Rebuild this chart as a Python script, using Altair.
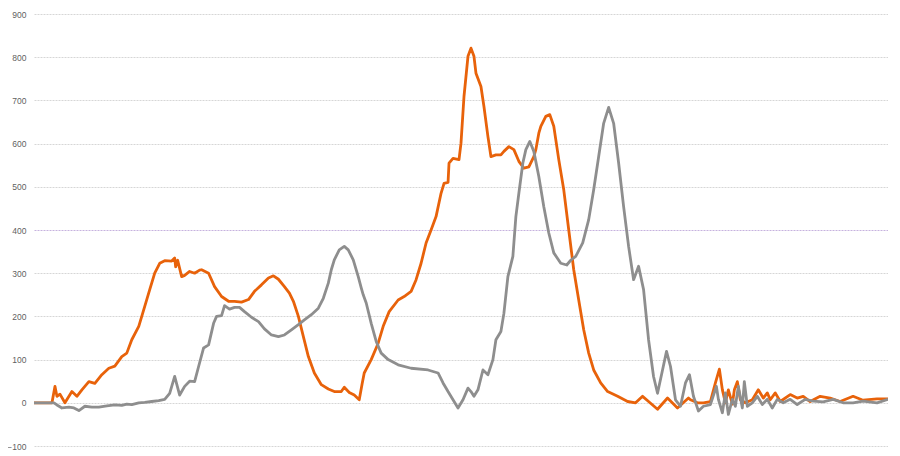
import altair as alt
import pandas as pd

# time index (read positions along the horizontal axis) and values
orange_t = [0, 8, 18, 21, 23, 26, 31, 38, 43, 48, 55, 61, 68, 75, 81, 88, 93, 98, 105, 111,
            116, 121, 126, 131, 138, 141, 142, 144, 148, 151, 156, 161, 166, 168, 175, 181, 188,
            195, 201, 208, 215, 221, 228, 235, 240, 245, 251, 256, 260, 265, 270, 275, 281, 288,
            295, 301, 308, 311, 316, 321, 326, 329, 331, 338, 345, 350, 356, 365, 371, 378, 383,
            388, 393, 398, 403, 408, 411, 415, 416, 420, 426, 428, 431, 435, 438, 441, 443, 448,
            451, 455, 458, 463, 468, 471, 476, 481, 486, 491, 496, 501, 503, 506, 508, 513, 517,
            521, 526, 531, 536, 541, 546, 551, 556, 561, 568, 575, 585, 595, 603, 610, 616, 625,
            635, 645, 656, 658, 665, 671, 678, 683, 687, 690, 693, 696, 700, 702, 705, 708, 713,
            720, 726, 731, 735, 738, 743, 748, 758, 765, 771, 778, 788, 798, 808, 821, 831, 845, 856]
orange_v = [0, 0, 0, 38, 15, 20, 0, 26, 15, 30, 49, 45, 65, 80, 85, 107, 115, 146, 177, 223,
            262, 300, 323, 329, 328, 335, 315, 330, 292, 295, 304, 300, 307, 308, 300, 269, 246,
            235, 235, 233, 239, 258, 273, 289, 294, 286, 269, 254, 235, 200, 153, 107, 69, 42,
            32, 26, 26, 36, 24, 18, 7, 45, 69, 100, 138, 177, 211, 238, 246, 258, 285,
            323, 370, 400, 431, 485, 508, 510, 555, 566, 563, 601, 709, 802, 821, 802, 763, 732,
            686, 616, 570, 574, 574, 582, 593, 586, 559, 543, 546, 570, 586, 624, 640, 663, 667,
            640, 563, 493, 400, 308, 238, 169, 115, 76, 46, 26, 15, 3, 0, 15, 3, -15,
            11, -12, 11, 7, 0, 0, 3, 46, 78, 30, 0, 30, -3, 30, 49, 7, 0,
            7, 30, 11, 23, 7, 23, 3, 19, 11, 15, 3, 15, 11, 3, 15, 6, 9, 9]

gray_t = [0, 20, 23, 28, 35, 40, 45, 51, 58, 65, 73, 81, 88, 93, 98, 105, 111, 118, 125, 131,
          136, 141, 146, 151, 156, 161, 165, 170, 175, 180, 183, 188, 191, 196, 201, 206, 211,
          218, 225, 231, 238, 245, 251, 258, 265, 271, 278, 285, 290, 295, 298, 301, 306, 311,
          315, 320, 325, 328, 330, 333, 338, 343, 348, 355, 365, 378, 395, 405, 410, 415, 420,
          425, 430, 435, 438, 441, 445, 450, 455, 460, 463, 468, 471, 475, 480, 483, 486, 490,
          493, 497, 501, 506, 511, 516, 521, 528, 534, 538, 543, 550, 556, 561, 566, 571, 576,
          581, 586, 591, 596, 601, 606, 611, 616, 621, 625, 630, 634, 638, 643, 648, 653, 657,
          661, 666, 671, 678, 684, 686, 690, 693, 696, 700, 703, 706, 710, 712, 715, 720, 725,
          730, 735, 740, 745, 751, 758, 765, 773, 781, 791, 801, 811, 821, 831, 845, 856]
gray_v = [0, 0, -5, -12, -10, -12, -18, -8, -10, -10, -7, -5, -6, -3, -4, 0, 1, 3, 5, 8,
          22, 61, 18, 38, 50, 49, 84, 127, 134, 184, 200, 202, 225, 217, 221, 221, 211,
          198, 188, 171, 157, 153, 157, 169, 181, 192, 204, 219, 242, 277, 308, 331, 354, 362,
          354, 331, 292, 266, 250, 231, 184, 142, 115, 100, 88, 80, 76, 69, 46, 26, 7,
          -12, 7, 34, 26, 15, 30, 76, 65, 100, 146, 165, 207, 292, 339, 431, 485, 555,
          586, 605, 582, 524, 454, 393, 347, 323, 319, 330, 339, 370, 424, 493, 570, 647, 684,
          647, 555, 454, 362, 285, 316, 262, 146, 61, 22, 76, 119, 84, 7, -8, 46, 65,
          15, -19, -8, -4, 38, 8, -23, 23, -27, 8, -8, 38, -12, 49, -8, 0, 15,
          -4, 8, -12, 8, 0, 8, -4, 8, 4, 2, 8, 0, 0, 4, 0, 8]

y_ticks = [-100, 0, 100, 200, 300, 400, 500, 600, 700, 800, 900]

df = pd.concat([
    pd.DataFrame({"t": orange_t, "v": orange_v, "s": "A"}),
    pd.DataFrame({"t": gray_t, "v": gray_v, "s": "B"}),
])

x_enc = alt.X("t:Q", axis=None, scale=alt.Scale(domain=[0, 856], nice=False, zero=False))
y_enc = alt.Y("v:Q", scale=alt.Scale(domain=[-100, 900], nice=False),
              axis=alt.Axis(values=y_ticks, title=None, domain=False, ticks=False,
                            labelPadding=8, labelFontSize=8.5, labelColor="#5f5f5f",
                            labelFont="Liberation Sans",
                            gridColor={"condition": {"test": "datum.value === 400", "value": "#c6b2de"},
                                       "value": "#d6d6d6"},
                            gridDash=[2, 1], gridWidth=1))

orange = alt.Chart(df[df.s == "A"]).mark_line(
    color="#E8620A", strokeWidth=2.8, strokeJoin="round"
).encode(x=x_enc, y=y_enc, order="t:Q")

gray = alt.Chart(df[df.s == "B"]).mark_line(
    color="#8E8E8E", strokeWidth=2.8, strokeJoin="round"
).encode(x=x_enc, y=y_enc, order="t:Q")

chart = alt.layer(orange, gray).properties(
    width=854, height=432,
    autosize=alt.AutoSizeParams(type="none"),
    padding={"left": 26, "top": 6, "right": 0, "bottom": 10},
    background="white",
).configure_view(stroke=None)

chart.save("out.html", embed_options={"renderer": "svg", "actions": False})
